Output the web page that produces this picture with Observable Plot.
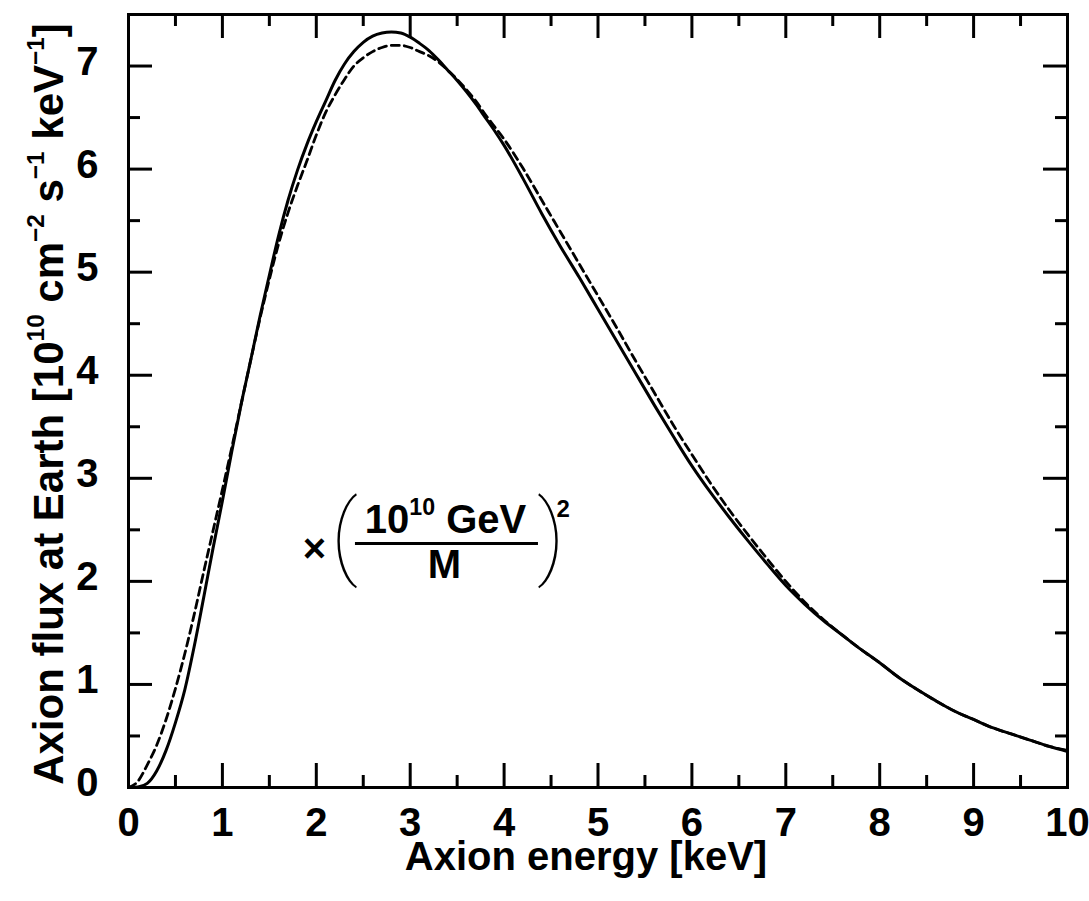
<!DOCTYPE html>
<html><head><meta charset="utf-8">
<script src="https://cdn.jsdelivr.net/npm/d3@7"></script>
<script src="https://cdn.jsdelivr.net/npm/@observablehq/plot@0.6"></script>
<style>
html,body{margin:0;padding:0;background:#fff;}
#chart svg{display:block;}
</style></head><body><div id="chart"></div>
<script>
// ---- data ----
const energy = [0, 0.1, 0.2, 0.3, 0.4, 0.5, 0.6, 0.7, 0.8, 0.9, 1.0, 1.1, 1.2, 1.3, 1.4, 1.5, 1.6, 1.7, 1.8, 1.9,
  2.0, 2.1, 2.2, 2.3, 2.4, 2.5, 2.6, 2.7, 2.8, 2.9, 3.0, 3.1, 3.2, 3.3, 3.4, 3.5, 3.6, 3.7, 3.8, 3.9,
  4.0, 4.2, 4.4, 4.6, 4.8, 5.0, 5.2, 5.4, 5.6, 5.8, 6.0, 6.2, 6.4, 6.6, 6.8, 7.0, 7.2, 7.4, 7.6, 7.8,
  8.0, 8.2, 8.4, 8.6, 8.8, 9.0, 9.2, 9.4, 9.6, 9.8, 10.0];
const fluxSolid = [0, 0.005, 0.04, 0.16, 0.36, 0.63, 0.95, 1.37, 1.84, 2.32, 2.78, 3.26, 3.72, 4.14, 4.57, 4.97, 5.36, 5.70, 5.99, 6.24,
  6.46, 6.66, 6.86, 7.02, 7.14, 7.23, 7.29, 7.32, 7.33, 7.32, 7.28, 7.22, 7.15, 7.06, 6.96, 6.86, 6.75, 6.63, 6.50, 6.37,
  6.23, 5.91, 5.57, 5.25, 4.95, 4.64, 4.33, 4.02, 3.71, 3.41, 3.12, 2.86, 2.62, 2.39, 2.17, 1.96, 1.78, 1.62, 1.48, 1.34,
  1.21, 1.07, 0.95, 0.84, 0.74, 0.66, 0.58, 0.52, 0.46, 0.40, 0.35];
const fluxDashed = [0, 0.06, 0.22, 0.41, 0.66, 0.96, 1.30, 1.68, 2.09, 2.49, 2.89, 3.30, 3.72, 4.14, 4.55, 4.93, 5.28, 5.58, 5.84, 6.08,
  6.33, 6.55, 6.72, 6.87, 7.00, 7.08, 7.14, 7.18, 7.20, 7.20, 7.18, 7.14, 7.10, 7.04, 6.96, 6.87, 6.77, 6.66, 6.53, 6.41,
  6.29, 6.01, 5.70, 5.39, 5.08, 4.77, 4.46, 4.14, 3.83, 3.52, 3.23, 2.95, 2.69, 2.45, 2.22, 2.00, 1.80, 1.63, 1.48, 1.34,
  1.21, 1.07, 0.95, 0.84, 0.74, 0.66, 0.58, 0.52, 0.46, 0.40, 0.36];
const xTicks = [0, 1, 2, 3, 4, 5, 6, 7, 8, 9, 10];
const yTicks = [0, 1, 2, 3, 4, 5, 6, 7];
const xMinor = [0.5, 1.5, 2.5, 3.5, 4.5, 5.5, 6.5, 7.5, 8.5, 9.5];
const yMinor = [0.5, 1.5, 2.5, 3.5, 4.5, 5.5, 6.5];
const xLabel = "Axion energy [keV]";
const yLabel = "Axion flux at Earth [10^{10} cm^{−2} s^{−1} keV^{−1}]";
const factorTimes = "×";
const factorNumerator = "10^{10} GeV";
const factorDenominator = "M";
const factorPower = "2";

// ---- layout ----
const W = 1089, H = 901, mL = 128, mR = 22, mT = 14, mB = 114;
const innerW = W - mL - mR, innerH = H - mT - mB;
const MAJ = 24, MIN = 12;
const font = "'Liberation Sans', Arial, Helvetica, sans-serif";
const thinFont = "Roboto, 'Open Sans', 'Liberation Sans', sans-serif";

const rows = energy.map((e, i) => ({e, solid: fluxSolid[i], dashed: fluxDashed[i]}));

const plot = Plot.plot({
  width: W, height: H,
  marginLeft: mL, marginRight: mR, marginTop: mT, marginBottom: mB,
  style: {fontFamily: font, background: "#fff", color: "#000"},
  x: {domain: [0, 10]},
  y: {domain: [0, 7.5]},
  marks: [
    Plot.axisX(xTicks, {anchor: "bottom", tickSize: 0, tickPadding: 20, fontSize: 40, fontWeight: "bold", label: null, tickFormat: d => String(d)}),
    Plot.axisY(yTicks, {anchor: "left", tickSize: 0, tickPadding: 30, fontSize: 40, fontWeight: "bold", label: null, dy: -4, tickFormat: d => String(d)}),
    // inward ticks, bottom & top
    Plot.ruleX(xTicks.slice(1, -1), {insetTop: innerH - MAJ, strokeWidth: 3}),
    Plot.ruleX(xTicks.slice(1, -1), {insetBottom: innerH - MAJ, strokeWidth: 3}),
    Plot.ruleX(xMinor, {insetTop: innerH - MIN, strokeWidth: 3}),
    Plot.ruleX(xMinor, {insetBottom: innerH - MIN, strokeWidth: 3}),
    // inward ticks, left & right
    Plot.ruleY(yTicks.slice(1), {insetRight: innerW - MAJ, strokeWidth: 3}),
    Plot.ruleY(yTicks.slice(1), {insetLeft: innerW - MAJ, strokeWidth: 3}),
    Plot.ruleY(yMinor, {insetRight: innerW - MIN, strokeWidth: 3}),
    Plot.ruleY(yMinor, {insetLeft: innerW - MIN, strokeWidth: 3}),
    Plot.frame({strokeWidth: 3}),
    // curves
    Plot.line(rows, {x: "e", y: "dashed", strokeWidth: 2.8, strokeDasharray: "8,5", curve: "monotone-x"}),
    Plot.line(rows, {x: "e", y: "solid", strokeWidth: 3, curve: "monotone-x"}),
    // axis titles
    Plot.text([xLabel], {text: d => d, frameAnchor: "bottom", textAnchor: "middle", lineAnchor: "top", dy: 54, dx: -12, fontSize: 40, fontWeight: "bold"}),
    Plot.text([yLabel], {text: d => d, frameAnchor: "left", textAnchor: "middle", rotate: -90, lineAnchor: "bottom", dx: -66, dy: 3, fontSize: 42, fontWeight: "bold"}),
    // annotation  × (10^10 GeV / M)^2
    Plot.text([factorTimes], {text: d => d, x: 1.98, y: 2.19, lineAnchor: "bottom", fontSize: 40, fontWeight: "bold"}),
    Plot.text(["("], {text: d => d, x: 2.30, y: 2.14, lineAnchor: "bottom", fontSize: 92, fontWeight: 100, fontFamily: thinFont}),
    Plot.text([")"], {text: d => d, x: 4.50, y: 2.14, lineAnchor: "bottom", fontSize: 92, fontWeight: 100, fontFamily: thinFont}),
    Plot.text([factorNumerator], {text: d => d, x: 3.376, y: 2.474, lineAnchor: "bottom", fontSize: 40, fontWeight: "bold"}),
    Plot.ruleY([2.367], {x1: 2.417, x2: 4.366, strokeWidth: 3}),
    Plot.text([factorDenominator], {text: d => d, x: 3.365, y: 2.028, lineAnchor: "bottom", fontSize: 40, fontWeight: "bold"}),
    Plot.text([factorPower], {text: d => d, x: 4.63, y: 2.62, lineAnchor: "bottom", fontSize: 24, fontWeight: "bold"})
  ]
});

// turn ^{...} markup into real superscript tspans
function applySup(svg) {
  svg.querySelectorAll("text").forEach(t => {
    const s = t.textContent;
    if (!s.includes("^{")) return;
    const holder = t.closest("[font-size]");
    const fs = parseFloat(holder ? holder.getAttribute("font-size") : 40) || 40;
    while (t.firstChild) t.removeChild(t.firstChild);
    const re = /\^\{([^}]*)\}/g;
    let last = 0, m;
    const parts = [];
    while ((m = re.exec(s))) {
      if (m.index > last) parts.push([s.slice(last, m.index), false]);
      parts.push([m[1], true]);
      last = re.lastIndex;
    }
    if (last < s.length) parts.push([s.slice(last), false]);
    let raised = false;
    const up = fs * 0.45;
    parts.forEach(([txt, sup]) => {
      const ts = document.createElementNS("http://www.w3.org/2000/svg", "tspan");
      if (sup) { ts.setAttribute("font-size", fs * 0.58); ts.setAttribute("dy", -up); raised = true; }
      else if (raised) { ts.setAttribute("dy", up); raised = false; }
      ts.textContent = txt;
      t.appendChild(ts);
    });
  });
}
applySup(plot);
document.getElementById("chart").appendChild(plot);
</script>
</body></html>
